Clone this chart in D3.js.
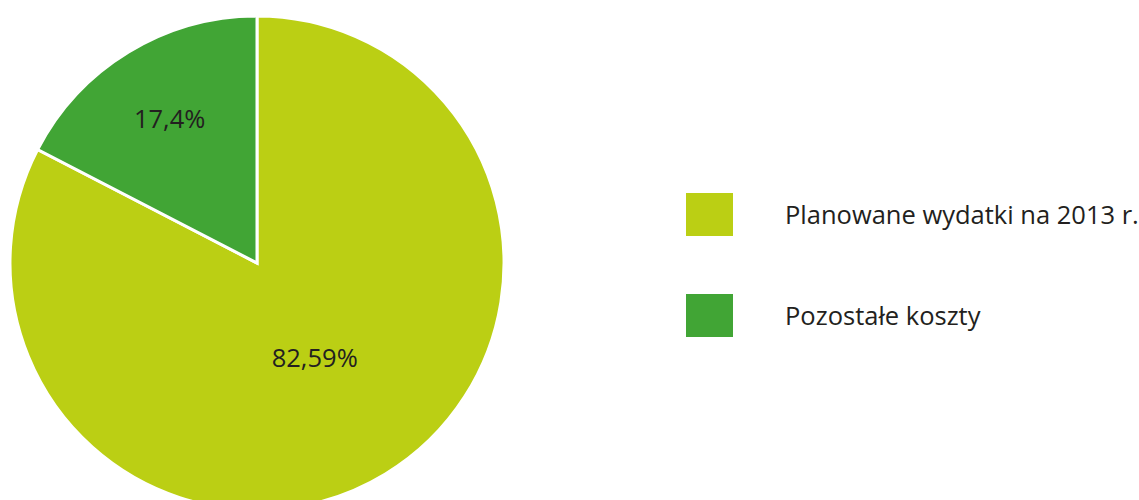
<!DOCTYPE html>
<html>
<head>
<meta charset="utf-8">
<script src="https://cdn.jsdelivr.net/npm/d3@7"></script>
<style>
  body { margin: 0; background: #fff; }
  svg { display: block; }
  text { font-family: "Open Sans", "Noto Sans", sans-serif; fill: #231f20; }
</style>
</head>
<body>
<svg id="chart" width="1139" height="500"></svg>
<script>
// data
var categories = ['Planowane wydatki na 2013 r.', 'Pozostałe koszty'];
var values = [82.59, 17.4];
var labels = ['82,59%', '17,4%'];
var colors = ['#bbcf14', '#41a535'];

var svg = d3.select('#chart');

var cx = 257, cy = 263, radius = 247;

var pie = d3.pie()
    .sort(null)
    .value(function(d){return d;})
    ;

var arc = d3.arc()
    .innerRadius(0)
    .outerRadius(radius)
    ;

// label rings, picked by eye per slice
var labelArc = [
  d3.arc().innerRadius(111).outerRadius(111),
  d3.arc().innerRadius(168).outerRadius(168)
];

var g = svg.append('g')
    .attr('transform', 'translate(' + cx + ',' + cy + ')')
    ;

var slices = g.selectAll('path')
    .data(pie(values))
    .enter().append('path')
    .attr('d', arc)
    .attr('fill', function(d, i){return colors[i];})
    .attr('stroke', '#fff')
    .attr('stroke-width', 3)
    .attr('stroke-linejoin', 'miter')
    ;

g.selectAll('text.val')
    .data(pie(values))
    .enter().append('text')
    .attr('class', 'val')
    .attr('transform', function(d, i){return 'translate(' + labelArc[i].centroid(d) + ')';})
    .attr('text-anchor', 'middle')
    .attr('dy', '0.35em')
    .style('font-size', '25.5px')
    .text(function(d, i){return labels[i];})
    ;

// legend
var legend = svg.append('g')
    .attr('transform', 'translate(686,193)')
    ;

var item = legend.selectAll('g')
    .data(categories)
    .enter().append('g')
    .attr('transform', function(d, i){return 'translate(0,' + (i * 101) + ')';})
    ;

item.append('rect')
    .attr('width', 47)
    .attr('height', 43)
    .attr('fill', function(d, i){return colors[i];})
    ;

item.append('text')
    .attr('x', 99)
    .attr('y', 31)
    .style('font-size', '25.5px')
    .text(function(d){return d;})
    ;
</script>
</body>
</html>
